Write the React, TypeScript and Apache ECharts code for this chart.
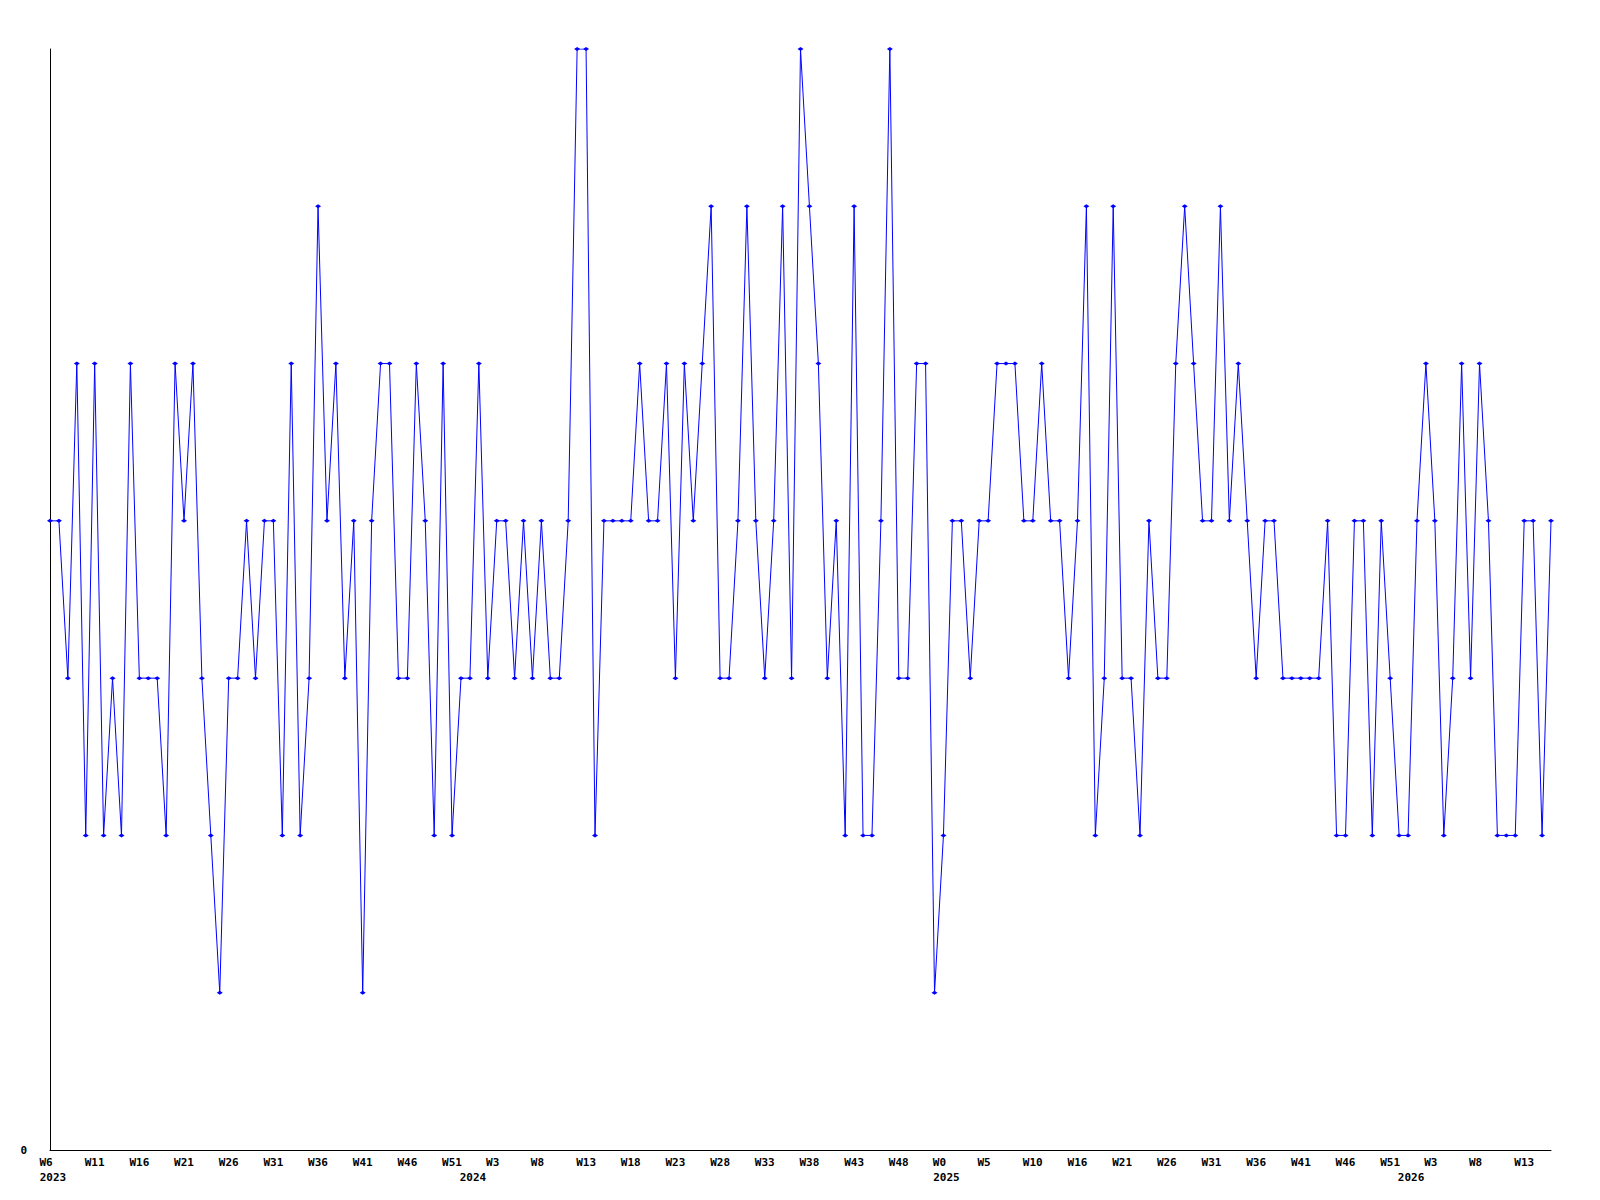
import React, { useEffect, useRef } from "react";
import * as echarts from "echarts";

// Weekly values, one per point (left to right)
const values: number[] = [
  4, 4, 3, 5, 2, 5, 2, 3, 2, 5,
  3, 3, 3, 2, 5, 4, 5, 3, 2, 1,
  3, 3, 4, 3, 4, 4, 2, 5, 2, 3,
  6, 4, 5, 3, 4, 1, 4, 5, 5, 3,
  3, 5, 4, 2, 5, 2, 3, 3, 5, 3,
  4, 4, 3, 4, 3, 4, 3, 3, 4, 7,
  7, 2, 4, 4, 4, 4, 5, 4, 4, 5,
  3, 5, 4, 5, 6, 3, 3, 4, 6, 4,
  3, 4, 6, 3, 7, 6, 5, 3, 4, 2,
  6, 2, 2, 4, 7, 3, 3, 5, 5, 1,
  2, 4, 4, 3, 4, 4, 5, 5, 5, 4,
  4, 5, 4, 4, 3, 4, 6, 2, 3, 6,
  3, 3, 2, 4, 3, 3, 5, 6, 5, 4,
  4, 6, 4, 5, 4, 3, 4, 4, 3, 3,
  3, 3, 3, 4, 2, 2, 4, 4, 2, 4,
  3, 2, 2, 4, 5, 4, 2, 3, 5, 3,
  5, 4, 2, 2, 2, 4, 4, 2, 4,
];

// Week tick labels, shown every 5th point
const weekTickStep = 5;
const weekLabels: string[] = [
  "W6", "W11", "W16", "W21", "W26", "W31", "W36", "W41", "W46", "W51",
  "W3", "W8", "W13", "W18", "W23", "W28", "W33", "W38", "W43", "W48",
  "W0", "W5", "W10", "W16", "W21", "W26", "W31", "W36", "W41", "W46",
  "W51", "W3", "W8", "W13",
];

// Year labels and the point index they sit under
const yearLabels: string[] = ["2023", "2024", "2025", "2026"];
const yearIndex: number[] = [0, 47, 100, 152];

const categories: string[] = values.map((_, i) => String(i));

const FONT = "DejaVu Sans Mono";

export default function App() {
  const ref = useRef<HTMLDivElement>(null);

  useEffect(() => {
    if (!ref.current) return;
    const chart = echarts.init(ref.current, undefined, { renderer: "svg" });
    const labelStyle = {
      fontFamily: FONT,
      fontSize: 11,
      fontWeight: "bold" as const,
      color: "#000",
    };
    const richStyle = {
      fontFamily: FONT,
      fontSize: 11,
      fontWeight: "bold" as const,
      color: "#000",
    };
    chart.setOption({
      animation: false,
      backgroundColor: "#fff",
      grid: { left: 50, right: 49, top: 49, bottom: 50, containLabel: false },
      xAxis: [
        {
          type: "category",
          data: categories,
          boundaryGap: false,
          axisLine: { show: true, lineStyle: { color: "#000", width: 1 } },
          axisTick: { show: false },
          splitLine: { show: false },
          axisLabel: {
            ...labelStyle,
            margin: 7,
            interval: (index: number) => index % weekTickStep === 0,
            formatter: (_v: string, index: number) => {
              if (index % weekTickStep !== 0) return "";
              const t = weekLabels[index / weekTickStep] ?? "";
              return t.length <= 2 ? `{s|${t}}` : `{l|${t}}`;
            },
            rich: {
              s: { ...richStyle, padding: [0, 8, 0, 0] },
              l: { ...richStyle },
            },
          },
        },
        {
          type: "category",
          data: categories,
          boundaryGap: false,
          position: "bottom",
          offset: 15,
          axisLine: { show: false },
          axisTick: { show: false },
          splitLine: { show: false },
          axisLabel: {
            ...labelStyle,
            margin: 7,
            interval: (index: number) => yearIndex.includes(index),
            formatter: (_v: string, index: number) => {
              const k = yearIndex.indexOf(index);
              return k >= 0 ? `{y|${yearLabels[k]}}` : "";
            },
            rich: {
              y: { ...richStyle, padding: [0, 0, 0, 6] },
            },
          },
        },
      ],
      yAxis: {
        type: "value",
        min: 0,
        max: 7,
        interval: 7,
        axisLine: { show: true, lineStyle: { color: "#000", width: 1 } },
        axisTick: { show: false },
        splitLine: { show: false },
        axisLabel: {
          ...labelStyle,
          margin: 23,
          formatter: (v: number) => (v === 0 ? "0" : ""),
        },
      },
      series: [
        {
          type: "line",
          xAxisIndex: 0,
          data: values,
          lineStyle: { color: "#0000ff", width: 1 },
          itemStyle: { color: "#0000ff" },
          symbol: "diamond",
          symbolSize: [6, 4],
          showSymbol: true,
        },
      ],
    });
    return () => chart.dispose();
  }, []);

  return (
    <div
      ref={ref}
      style={{ position: "fixed", left: 0, top: 0, width: 1600, height: 1200 }}
    />
  );
}
